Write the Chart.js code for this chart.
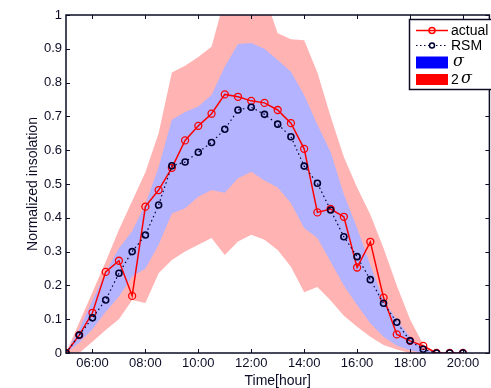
<!DOCTYPE html>
<html>
<head>
<meta charset="utf-8">
<script src="https://cdn.jsdelivr.net/npm/chart.js@4.4.1/dist/chart.umd.min.js"></script>
<style>
  html, body { margin: 0; padding: 0; background: #fff; overflow: hidden; }
</style>
</head>
<body>
<canvas id="chart" width="495" height="388"></canvas>
<script>
  // half-hour samples, 05:00 .. 20:00
  const hours = [5, 5.5, 6, 6.5, 7, 7.5, 8, 8.5, 9, 9.5, 10, 10.5, 11, 11.5, 12, 12.5,
                 13, 13.5, 14, 14.5, 15, 15.5, 16, 16.5, 17, 17.5, 18, 18.5, 19, 19.5, 20];

  const actual = [0, 0.053, 0.119, 0.24, 0.273, 0.169, 0.433, 0.482, 0.548, 0.629, 0.672, 0.708,
                  0.765, 0.758, 0.746, 0.74, 0.719, 0.68, 0.604, 0.416, 0.426, 0.403, 0.253, 0.329,
                  0.164, 0.055, 0.036, 0.021, 0, 0, 0];

  const rsm = [0, 0.053, 0.104, 0.157, 0.236, 0.30, 0.349, 0.438, 0.554, 0.565, 0.594, 0.623,
               0.662, 0.719, 0.727, 0.706, 0.677, 0.64, 0.553, 0.502, 0.423, 0.344, 0.285, 0.217,
               0.147, 0.091, 0.036, 0.011, 0, 0, 0];

  // sigma band
  const sigUpper = [0, 0.07, 0.155, 0.24, 0.31, 0.36, 0.44, 0.55, 0.69, 0.713, 0.729, 0.763,
                    0.847, 0.914, 0.917, 0.90, 0.867, 0.832, 0.763, 0.675, 0.595, 0.47, 0.37, 0.26,
                    0.157, 0.098, 0.047, 0.012, 0, 0, 0];
  const sigLower = [0, 0.03, 0.07, 0.122, 0.167, 0.226, 0.25, 0.32, 0.413, 0.428, 0.462, 0.482,
                    0.474, 0.517, 0.536, 0.51, 0.49, 0.443, 0.37, 0.34, 0.27, 0.20, 0.142, 0.088,
                    0.048, 0.022, 0.008, 0, 0, 0, 0];

  // 2 sigma band
  const sig2Upper = [0, 0.09, 0.18, 0.27, 0.365, 0.45, 0.535, 0.65, 0.83, 0.85, 0.876, 0.906,
                     1.05, 1.1, 1.1, 1.058, 0.946, 0.928, 0.925, 0.83, 0.70, 0.58, 0.49, 0.41,
                     0.31, 0.20, 0.10, 0.025, 0, 0, 0];
  const sig2Lower = [0, 0, 0.033, 0.068, 0.10, 0.157, 0.148, 0.236, 0.275, 0.30, 0.32, 0.34,
                     0.29, 0.33, 0.35, 0.335, 0.305, 0.255, 0.18, 0.195, 0.155, 0.11, 0.078, 0.048,
                     0.024, 0.01, 0, 0, 0, 0, 0];

  const xTicks = [6, 8, 10, 12, 14, 16, 18, 20];
  const yTicks = [0, 0.1, 0.2, 0.3, 0.4, 0.5, 0.6, 0.7, 0.8, 0.9, 1];

  const axisColor = '#0d0d26';
  const pts = arr => arr.map((v, i) => ({ x: hours[i], y: v }));

  // inward ticks on all four sides + box + legend
  const frame = {
    id: 'frame',
    afterDraw(chart) {
      const { ctx, chartArea: a, scales } = chart;
      ctx.save();
      ctx.strokeStyle = axisColor;
      ctx.lineWidth = 1;
      ctx.beginPath();
      xTicks.forEach(v => {
        const x = Math.round(scales.x.getPixelForValue(v)) + 0.5;
        ctx.moveTo(x, a.bottom); ctx.lineTo(x, a.bottom - 4);
        ctx.moveTo(x, a.top); ctx.lineTo(x, a.top + 4);
      });
      yTicks.forEach(v => {
        const y = Math.round(scales.y.getPixelForValue(v)) + 0.5;
        ctx.moveTo(a.left, y); ctx.lineTo(a.left + 4, y);
        ctx.moveTo(a.right, y); ctx.lineTo(a.right - 4, y);
      });
      ctx.stroke();
      ctx.lineWidth = 1.5;
      ctx.strokeRect(a.left, a.top, a.right - a.left, a.bottom - a.top);

      // legend box
      const lx = 409.5, ly = 19.5;
      ctx.fillStyle = '#fff';
      ctx.fillRect(lx, ly, 120, 70);
      ctx.strokeStyle = axisColor;
      ctx.lineWidth = 1.5;
      ctx.strokeRect(lx, ly, 120, 70);

      ctx.font = '14px "Liberation Sans", Arial, sans-serif';
      ctx.textBaseline = 'middle';
      ctx.fillStyle = '#000';

      // actual
      ctx.strokeStyle = '#ff0000';
      ctx.lineWidth = 1.5;
      ctx.beginPath(); ctx.moveTo(416, 30.5); ctx.lineTo(448, 30.5); ctx.stroke();
      ctx.beginPath(); ctx.arc(432, 30.5, 3, 0, Math.PI * 2); ctx.stroke();
      ctx.fillText('actual', 451, 31);

      // RSM
      ctx.strokeStyle = '#000030';
      ctx.lineWidth = 1.2;
      ctx.setLineDash([1.5, 2.5]);
      ctx.beginPath(); ctx.moveTo(416, 45.5); ctx.lineTo(448, 45.5); ctx.stroke();
      ctx.setLineDash([]);
      ctx.lineWidth = 1.5;
      ctx.beginPath(); ctx.arc(432, 45.5, 2.5, 0, Math.PI * 2); ctx.fillStyle = '#fff'; ctx.fill(); ctx.stroke();
      ctx.fillStyle = '#000';
      ctx.fillText('RSM', 451, 46);

      // sigma
      ctx.fillStyle = '#0000ff';
      ctx.fillRect(416, 56.5, 32, 12);
      ctx.fillStyle = '#ff0000';
      ctx.fillRect(416, 74, 32, 11);
      ctx.fillStyle = '#000';
      ctx.font = 'italic 16px "DejaVu Serif", serif';
      ctx.fillText('σ', 453, 62);
      ctx.font = '14px "Liberation Sans", Arial, sans-serif';
      ctx.fillText('2', 451, 80);
      ctx.font = 'italic 16px "DejaVu Serif", serif';
      ctx.fillText('σ', 461, 79);
      ctx.restore();
    }
  };

  const config = {
    type: 'line',
    data: {
      datasets: [
        {
          label: 'actual',
          data: pts(actual),
          borderColor: '#ff0000',
          borderWidth: 1.5,
          pointRadius: 3.5,
          pointBorderWidth: 1.3,
          pointBorderColor: '#ff0000',
          pointBackgroundColor: 'rgba(0,0,0,0)',
          fill: false,
          order: 1,
        },
        {
          label: 'RSM',
          data: pts(rsm),
          borderColor: '#000030',
          borderWidth: 1.2,
          borderDash: [1.5, 3],
          pointRadius: 3,
          pointBorderWidth: 1.6,
          pointBorderColor: '#000030',
          pointBackgroundColor: 'rgba(0,0,0,0)',
          fill: false,
          order: 0,
        },
        {
          label: 'sigLower',
          data: pts(sigLower),
          borderWidth: 0,
          pointRadius: 0,
          fill: false,
          order: 3,
        },
        {
          label: 'σ',
          data: pts(sigUpper),
          borderWidth: 0,
          pointRadius: 0,
          backgroundColor: '#b3b3ff',
          fill: '-1',
          order: 3,
        },
        {
          label: 'sig2Lower',
          data: pts(sig2Lower),
          borderWidth: 0,
          pointRadius: 0,
          fill: false,
          order: 4,
        },
        {
          label: '2σ',
          data: pts(sig2Upper),
          borderWidth: 0,
          pointRadius: 0,
          backgroundColor: '#ffb3b3',
          fill: '-1',
          order: 4,
        },
      ],
    },
    options: {
      responsive: false,
      animation: false,
      layout: { padding: { top: 15, right: 0, left: 0, bottom: 0 } },
      plugins: {
        legend: { display: false },
        tooltip: { enabled: false },
      },
      elements: { line: { tension: 0 } },
      scales: {
        x: {
          type: 'linear',
          min: 5,
          max: 21,
          afterBuildTicks: s => { s.ticks = xTicks.map(v => ({ value: v })); },
          afterFit: s => { s.height = 35; },
          grid: { display: false, drawTicks: false },
          border: { display: false },
          ticks: {
            padding: 3,
            color: axisColor,
            font: { family: '"Liberation Sans", Arial, sans-serif', size: 13 },
            maxRotation: 0,
            callback: v => String(v).padStart(2, '0') + ':00',
          },
          title: {
            display: true,
            text: 'Time[hour]',
            color: axisColor,
            font: { family: '"Liberation Sans", Arial, sans-serif', size: 14, lineHeight: 1 },
            padding: 0,
          },
        },
        y: {
          min: 0,
          max: 1,
          afterBuildTicks: s => { s.ticks = yTicks.map(v => ({ value: v })); },
          afterFit: s => { s.width = 66; },
          grid: { display: false, drawTicks: false },
          border: { display: false },
          ticks: {
            padding: 4,
            color: axisColor,
            font: { family: '"Liberation Sans", Arial, sans-serif', size: 13 },
            callback: v => (v === 0 ? '0' : v === 1 ? '1' : v.toFixed(1)),
          },
          title: {
            display: true,
            text: 'Normalized insolation',
            color: axisColor,
            font: { family: '"Liberation Sans", Arial, sans-serif', size: 14 },
            padding: { top: 25, bottom: 0 },
          },
        },
      },
    },
    plugins: [frame],
  };

  new Chart(document.getElementById('chart'), config);
</script>
</body>
</html>
